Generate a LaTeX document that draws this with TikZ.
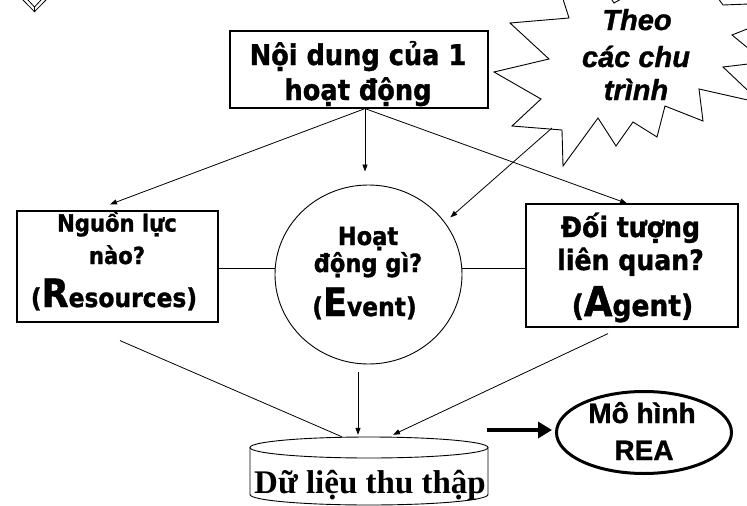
\documentclass[tikz,border=0pt]{standalone}
\usepackage{fontspec}
\newfontfamily\vfont{DejaVu Sans}[BoldFont={DejaVu Sans Bold}, BoldFeatures={FakeBold=1.2, FakeStretch=0.9}]
\newfontfamily\afont{Liberation Sans}[BoldFont={Liberation Sans Bold}, BoldItalicFont={Liberation Sans Bold Italic}, BoldFeatures={FakeBold=1.2}, BoldItalicFeatures={FakeBold=1.2}]
\newfontfamily\tfont{Liberation Serif}[BoldFont={Liberation Serif Bold}]
\usetikzlibrary{arrows.meta,shapes.geometric}
\newcommand\fsz[1]{\fontsize{#1}{#1}\selectfont}
\begin{document}
\begin{tikzpicture}[x=1pt,y=-1pt,
  thinln/.style={line width=0.8pt},
  box/.style={draw, line width=1.2pt, inner sep=0pt},
  arr/.style={line width=0.8pt, -{Triangle[length=7pt,width=5pt]}},
  lbl/.style={anchor=base, inner sep=0pt},
  vt/.style={lbl},
  cyl/.style={line width=0.9pt}
]
\useasboundingbox[fill=white] (0,0) rectangle (747,506);

% small partial shape at top-left
\draw[thinln] (23,0) -- (34.5,11.7) -- (46,0);
\draw[thinln] (28,0) -- (34.5,7) -- (41,0);
\draw[thinln] (34.5,7) -- (34.5,11.7);

% starburst
\begin{scope}
\clip (0,0) rectangle (747,506);
\draw[line width=0.9pt, fill=white] (557,-20) -- (569,18) -- (510,23) -- (549,59) -- (494,72) -- (541,99) -- (512,126) -- (562,130) -- (563,166) -- (598,118) -- (616,146) -- (633,122) -- (657,137) -- (665,106) -- (703,121) -- (699,89) -- (761,103) -- (723,67) -- (765,62) -- (732,35) -- (775,18) -- (775,3) -- (723,5) -- (690,-40) -- (614,3) -- (585,-40) -- cycle;
\end{scope}
\coordinate (burst) at (552,128);
\node[lbl, font=\afont\bfseries\itshape\fsz{29}] (th1) at (637,30) {Theo};
\node[lbl, font=\afont\bfseries\itshape\fsz{29}] (th2) at (636,67) {các chu};
\node[lbl, font=\afont\bfseries\itshape\fsz{29}] (th3) at (636,100) {trình};

% main shapes
\node[box, minimum width=258pt, minimum height=77pt] (top) at (359,69.5) {};
\node[box, minimum width=201pt, minimum height=111pt] (res) at (117.5,266.5) {};
\node[draw, ellipse, line width=0.9pt, inner sep=0pt, minimum width=187pt, minimum height=179pt] (evt) at (368.5,274.5) {};
\node[box, minimum width=212pt, minimum height=123pt] (agt) at (632,265.5) {};
\node[draw, ellipse, line width=3pt, inner sep=0pt, minimum width=175pt, minimum height=82pt] (rea) at (644,432.5) {};
\node[inner sep=0pt, minimum width=238pt, minimum height=68pt] (db) at (369,471) {};

% cylinder outline
\draw[cyl] (369,447.5) ellipse [x radius=119pt, y radius=10.5pt];
\draw[cyl] (250,447.5) -- (250,494.5) arc[start angle=180, end angle=360, x radius=119pt, y radius=10.5pt] -- (488,447.5);

% texts
\node[vt, font=\vfont\bfseries\fsz{28.5}] (tp1) at (358,65) {Nội dung của 1};
\node[vt, font=\vfont\bfseries\fsz{28.5}] (tp2) at (358,100) {hoạt động};

\node[vt, font=\vfont\bfseries\fsz{23.5}] (rs1) at (117,231.5) {Nguồn lực};
\node[vt, font=\vfont\bfseries\fsz{23.5}] (rs2) at (117,264) {nào?};
\node[vt, font=\vfont\bfseries\fsz{26}] (rs3) at (114,307) {(\fsz{39}R\fsz{26}esources)};

\node[vt, font=\vfont\bfseries\fsz{25}] (ev1) at (368,245) {Hoạt};
\node[vt, font=\vfont\bfseries\fsz{25}] (ev2) at (368,272) {động gì?};
\node[vt, font=\vfont\bfseries\fsz{26}] (ev3) at (364.5,316) {(\fsz{39}E\fsz{26}vent)};

\node[vt, font=\vfont\bfseries\fsz{28}] (ag1) at (630.5,237) {Đối tượng};
\node[vt, font=\vfont\bfseries\fsz{28}] (ag2) at (630.5,270) {liên quan?};
\node[vt, font=\vfont\bfseries\fsz{29.5}] (ag3) at (632.5,316) {(\fsz{41}A\fsz{29.5}gent)};

\node[lbl, font=\afont\bfseries\fsz{28}] (re1) at (642,423) {Mô hình};
\node[lbl, font=\afont\bfseries\fsz{28}] (re2) at (644,460) {REA};

\node[lbl, font=\tfont\bfseries\fsz{33}] (dbt) at (370,493) {Dữ liệu thu thập};

% connectors
\draw[arr] ([xshift=6pt]top.south) -- ([shift={(-7.5pt,6pt)}]res.north);
\draw[arr] ([xshift=6pt]top.south) -- ([shift={(-3.5pt,13pt)}]evt.north);
\draw[arr] ([xshift=6pt]top.south) -- ([xshift=-5pt]agt.north);
\draw[arr] (burst) -- ([shift={(6pt,4pt)}]evt.35);
\draw[thinln] ([yshift=-1.5pt]res.east) -- ([yshift=-1.5pt]res.east -| evt.west);
\draw[thinln] ([yshift=-3pt]agt.west) -- ([yshift=-3pt]agt.west -| evt.east);
\draw[thinln] ([shift={(2.5pt,-18pt)}]res.south) -- ([xshift=-27pt]db.north);
\draw[arr] ([shift={(-10.5pt,-8pt)}]evt.south) -- ([shift={(-11pt,2pt)}]db.north);
\draw[arr] ([shift={(-24pt,-6pt)}]agt.south) -- ([shift={(24pt,2pt)}]db.north);
\coordinate (thk) at (487,430);
\draw[line width=4pt, -{Triangle[length=14pt,width=16pt]}, shorten >=3pt] (thk) -- (thk -| rea.west);
\end{tikzpicture}
\end{document}
